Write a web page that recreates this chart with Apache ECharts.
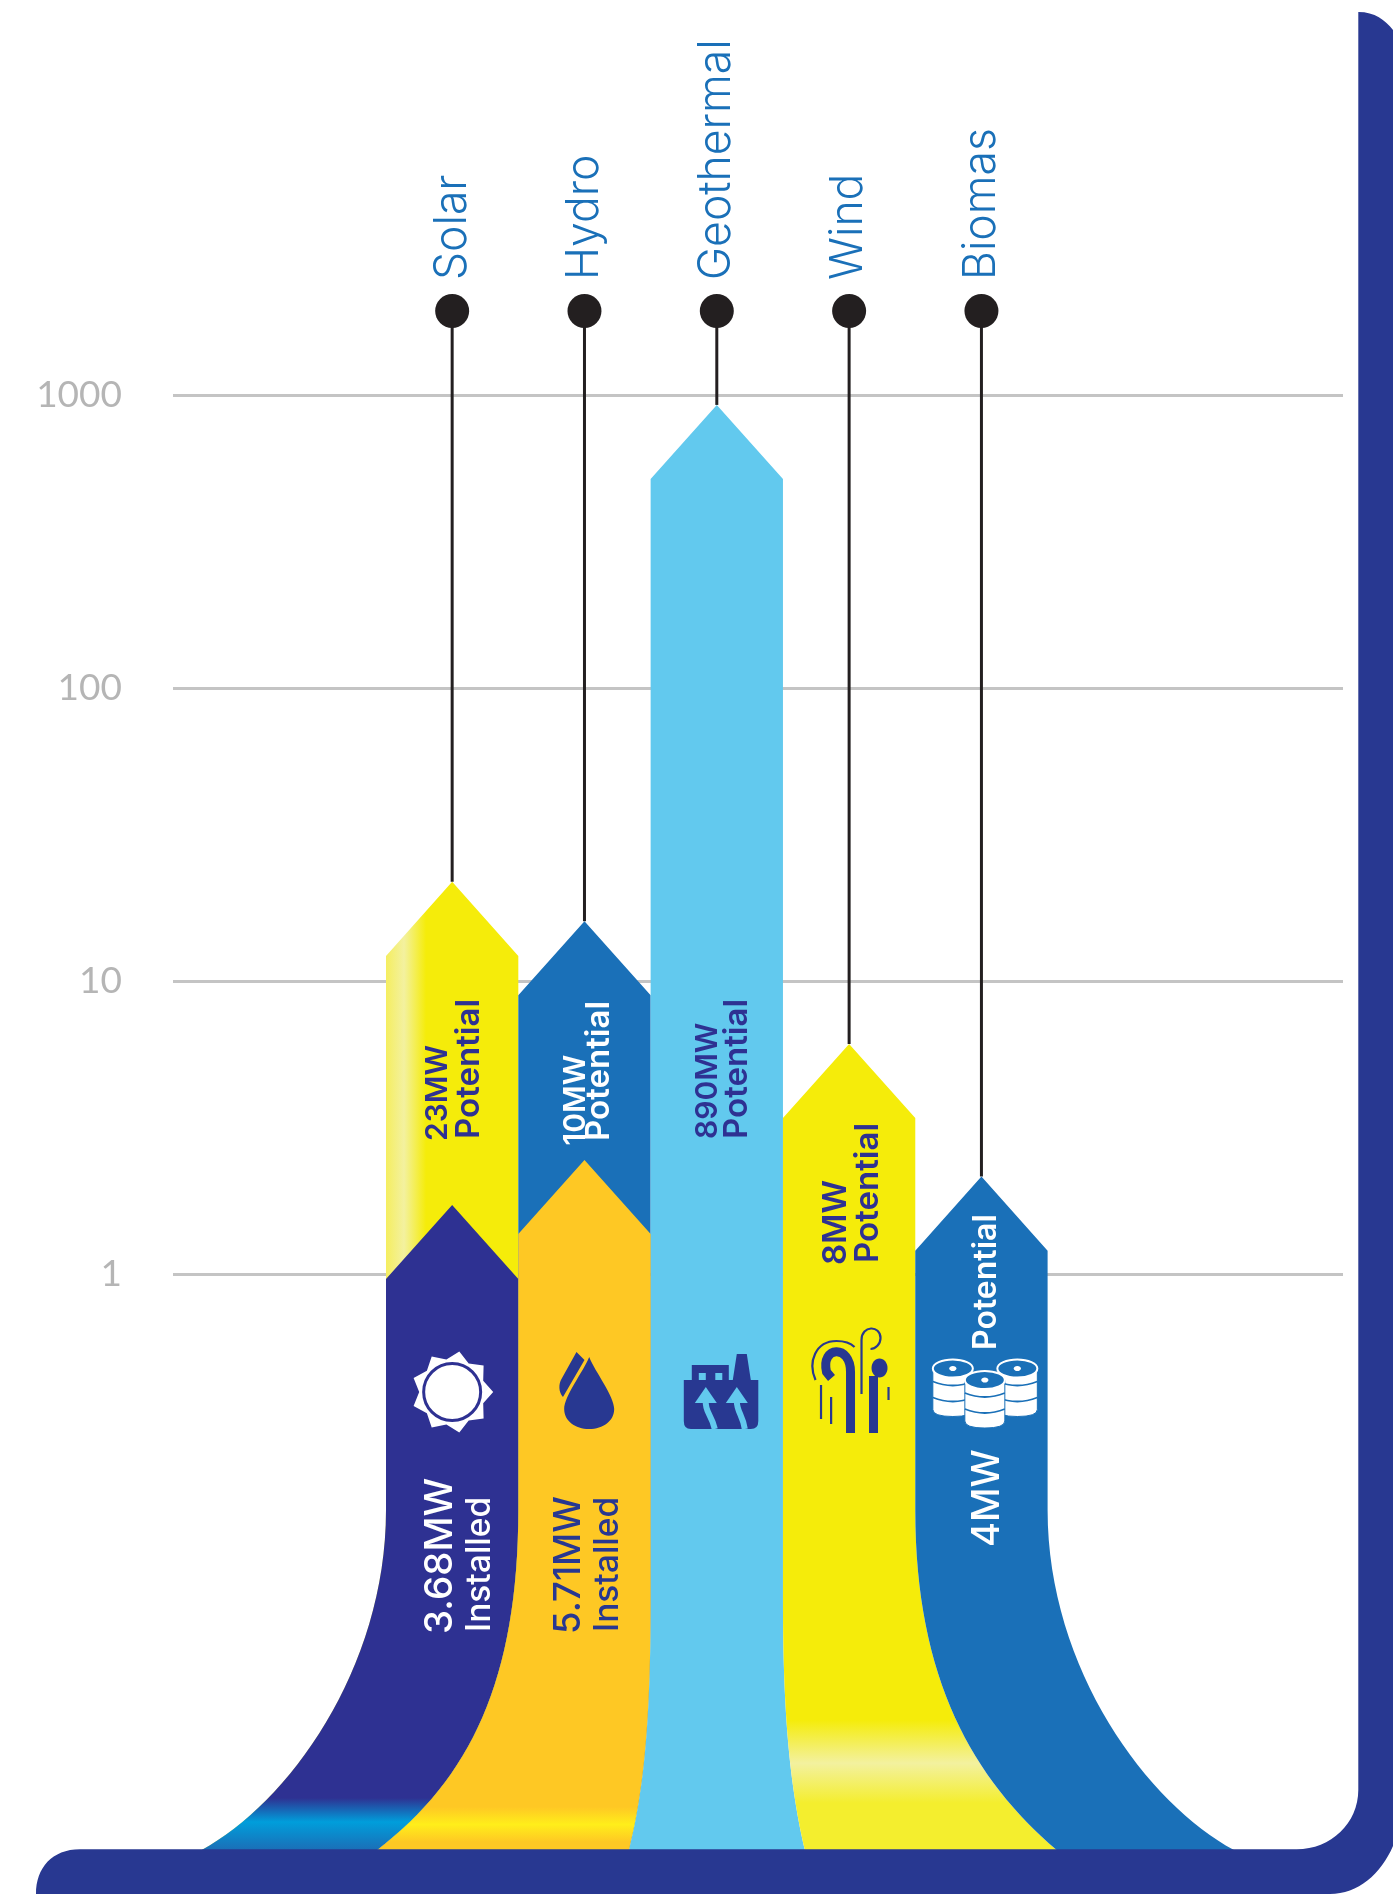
<!DOCTYPE html>
<html><head><meta charset="utf-8">
<style>html,body{margin:0;padding:0;background:#fff}#c{width:1393px;height:1894px}</style>
<script src="https://cdn.jsdelivr.net/npm/echarts@6/dist/echarts.min.js"></script>
</head><body><div id="c"></div>
<script>
// ---- data ----
const categories = ['Solar', 'Hydro', 'Geothermal', 'Wind', 'Biomas'];
const potentialTop = [21.8, 16, 925, 6.1, 2.15];
const installedTop = [1.72, 2.45, null, null, null];
const potentialLabels = ['23MW', '10MW', '890MW', '8MW', null];
const installedLabels = ['3.68MW', '5.71MW', null, null, '4MW'];
const yTicks = [1, 10, 100, 1000];

// ---- style ----
const NAVY = '#283891', INDIGO = '#2E3192', BLUE = '#1A70B8', YEL = '#F5EC0A', AMB = '#FEC824', SKY = '#62C9EE', INK = '#231F20';
const TXT_FONT = 'Inter, "Open Sans", sans-serif';

const vg = (y1, y2, stops) => ({type:'linear', global:true, x:0, y:y1, x2:0, y2:y2, colorStops:stops.map(s=>({offset:s[0],color:s[1]}))});
const hg = (x1, x2, stops) => ({type:'linear', global:true, x:x1, y:0, x2:x2, y2:0, colorStops:stops.map(s=>({offset:s[0],color:s[1]}))});

// flare of each band edge, relative to the edge and to the y=1 line
const FLARE = [
  {s:236, c1:396, c2x:-99,   c2y:530, ex:-184.3},
  {s:236, c1:406, c2x:-48.3, c2y:505, ex:-141},
  {s:326, c1:446, c2x:-6.6,  c2y:516, ex:-21.6},
  {s:326, c1:446, c2x:8,     c2y:516, ex:22},
  {s:236, c1:406, c2x:58.7,  c2y:505, ex:141.4},
  {s:236, c1:396, c2x:100.9, c2y:530, ex:186.4}
];
const F_END = 576, TIP_K = 0.56;

function geom(api, i) {
  const a = api.coord([i, 1]), b = api.coord([i + 1 > 4 ? i - 1 : i + 1, 1]);
  const band = Math.abs(b[0] - a[0]);
  return {cx: a[0], band, base: a[1], left: a[0] - band / 2, right: a[0] + band / 2};
}
function arrowPath(g, i, tipY) {
  const L = FLARE[i], R = FLARE[i + 1], b = g.base;
  const e = b + F_END, sh = tipY + g.band * TIP_K;
  return `M${g.cx} ${tipY} L${g.right} ${sh} L${g.right} ${b + R.s} ` +
    `C${g.right} ${b + R.c1} ${g.right + R.c2x} ${b + R.c2y} ${g.right + R.ex} ${e} ` +
    `L${g.left + L.ex} ${e} ` +
    `C${g.left + L.c2x} ${b + L.c2y} ${g.left} ${b + L.c1} ${g.left} ${b + L.s} ` +
    `L${g.left} ${sh} Z`;
}
function potentialFill(i, g) {
  const b = g.base;
  if (i === 0) return hg(g.left, g.left + 40, [[0,'#F5EE60'],[.45,'#F3F19F'],[1,YEL]]);
  if (i === 1 || i === 4) return BLUE;
  if (i === 2) return SKY;
  return vg(b + 446, b + 529, [[0,YEL],[.52,'#F3F19F'],[1,'#F4EE2E']]);
}
function installedFill(i, g) {
  const b = g.base;
  if (i === 0) return vg(b + 524, b + 575, [[0,INDIGO],[.47,'#009EDB'],[1,BLUE]]);
  return vg(b + 533, b + 568, [[0,AMB],[.5,'#FFEE1A'],[1,AMB]]);
}
const txt = (s, x, y, fill, size, weight) => ({type:'text', x, y, rotation:Math.PI/2, silent:true,
  style:{text:s, fill, fontSize:size, fontWeight:weight||600, fontFamily:TXT_FONT, align:'left', verticalAlign:'middle'}});

// ---- icons, drawn relative to the band centre and y=1 line ----
function sun(c, b) {
  let d = '';
  const R = 41, r = 33, y = b + 118;
  for (let k = 0; k < 18; k++) {
    const ang = k * Math.PI / 9, rad = k % 2 ? r : R;
    d += (k ? 'L' : 'M') + (c + rad * Math.cos(ang)).toFixed(1) + ' ' + (y + rad * Math.sin(ang)).toFixed(1);
  }
  return [
    {type:'path', shape:{pathData:d + 'Z'}, style:{fill:'#fff'}},
    {type:'circle', shape:{cx:c, cy:y, r:28.5}, style:{fill:'#fff', stroke:INDIGO, lineWidth:3}}
  ];
}
function drop(c, b) {
  const x = c + 4.7, y = b;
  return [
    {type:'path', shape:{pathData:`M${x} ${y+83} C${x+6} ${y+98} ${x+25} ${y+122} ${x+25} ${y+135} C${x+25} ${y+147} ${x+14} ${y+155} ${x} ${y+155} C${x-14} ${y+155} ${x-25} ${y+147} ${x-25} ${y+135} C${x-25} ${y+122} ${x-6} ${y+98} ${x} ${y+83} Z`}, style:{fill:NAVY}},
    {type:'path', shape:{pathData:`M${c-8} ${y+78} L${c} ${y+86} L${c-21.5} ${y+123} C${c-26} ${y+118} ${c-26} ${y+110} ${c-23} ${y+105} Z`}, style:{fill:NAVY}}
  ];
}
function factory(c, b) {
  const X = v => c + v - 717, Y = v => b + v - 1274;
  const shaft = (x1,y1,cx1,cy1,cx2,cy2,x2,y2) => ({type:'bezierCurve', shape:{x1:X(x1),y1:Y(y1),x2:X(x2),y2:Y(y2),cpx1:X(cx1),cpy1:Y(cy1),cpx2:X(cx2),cpy2:Y(cy2)}, style:{stroke:SKY, lineWidth:6, fill:'none'}});
  const head = (tx) => ({type:'path', shape:{pathData:`M${X(tx)} ${Y(1387)} L${X(tx+11)} ${Y(1403)} L${X(tx-11)} ${Y(1403)} Z`}, style:{fill:SKY}});
  return [
    {type:'path', shape:{pathData:`M${X(684)} ${Y(1380)} L${X(692)} ${Y(1380)} L${X(692)} ${Y(1365)} L${X(729)} ${Y(1365)} L${X(729)} ${Y(1380)} L${X(733)} ${Y(1380)} L${X(737)} ${Y(1354)} L${X(747)} ${Y(1354)} L${X(751)} ${Y(1380)} L${X(758.5)} ${Y(1380)} L${X(758.5)} ${Y(1421)} Q${X(758.5)} ${Y(1429)} ${X(751)} ${Y(1429)} L${X(691)} ${Y(1429)} Q${X(684)} ${Y(1429)} ${X(684)} ${Y(1421)} Z`}, style:{fill:NAVY}},
    {type:'rect', shape:{x:X(699), y:Y(1373), width:7, height:7}, style:{fill:SKY}},
    {type:'rect', shape:{x:X(715.5), y:Y(1373), width:7, height:7}, style:{fill:SKY}},
    shaft(706,1401, 705,1412, 712,1415, 715,1429), head(706),
    shaft(737,1401, 737,1412, 743,1415, 745,1429), head(737)
  ];
}
function wind(c, b) {
  const X = v => c + v - 849.6, Y = v => b + v - 1274;
  const s = (d, w) => ({type:'path', shape:{pathData:d}, style:{stroke:NAVY, lineWidth:w, fill:'none'}});
  const P = (cmd, ...n) => cmd + n.map((v, k) => k % 2 ? Y(v) : X(v)).join(' ');
  return [
    s(P('M',851,1433)+P('L',851,1372)+P('C',851,1344,821,1346,827,1372)+P('L',832,1378), 9),
    s(P('M',816,1380)+P('C',808,1362,816,1341,837,1341)+P('C',845,1341,851,1343,855,1347), 2.2),
    s(P('M',862,1394)+P('L',862,1340)+P('C',862,1325,881,1325,881,1338)+P('C',881,1344,876,1349,871,1349), 2.2),
    s(P('M',874,1433)+P('L',874,1376), 9),
    {type:'ellipse', shape:{cx:X(880), cy:Y(1368), rx:8, ry:9.5}, style:{fill:NAVY}},
    s(P('M',821.5,1385)+P('L',821.5,1419), 2.2),
    s(P('M',831.6,1397)+P('L',831.6,1424), 2.2),
    s(P('M',889,1387)+P('L',889,1400), 2.2)
  ];
}
function barrel(x, top) {
  const rx = 20, ry = 9, bottom = top + 57;
  const rib = (y) => ({type:'path', shape:{pathData:`M${x-rx} ${y} Q${x} ${y+8} ${x+rx} ${y}`}, style:{stroke:BLUE, lineWidth:1.8, fill:'none'}});
  return [
    {type:'path', shape:{pathData:`M${x-rx} ${top+ry} L${x+rx} ${top+ry} L${x+rx} ${bottom-7} Q${x+rx} ${bottom} ${x} ${bottom} Q${x-rx} ${bottom} ${x-rx} ${bottom-7} Z`}, style:{fill:'#fff', stroke:BLUE, lineWidth:1}},
    {type:'ellipse', shape:{cx:x, cy:top+ry, rx:rx, ry:ry}, style:{fill:BLUE, stroke:'#fff', lineWidth:2}},
    {type:'ellipse', shape:{cx:x, cy:top+ry, rx:3.6, ry:2.6}, style:{fill:'#fff'}},
    rib(top+22), rib(top+38)
  ];
}
function barrels(c, b) {
  const X = v => c + v - 981.6, y = v => b + v - 1274;
  return [...barrel(X(953), y(1359.5)), ...barrel(X(1017.5), y(1359.5)), ...barrel(X(985), y(1371))];
}
const iconDraw = [sun, drop, factory, wind, barrels];

// label placement: [dx from band centre, dy from y=1 line, size] – one per text
const POT_POS = [
  {v:[-14.5,-133,30], t:[16.5,-135,33], c:INDIGO},
  {v:[-8,-128.5,30], t:[15,-133,33], c:'#fff'},
  {v:[-9,-135,30], t:[20.5,-135,33], c:INDIGO},
  {v:[-13,-9,33], t:[18.5,-11,33], c:INDIGO},
  {t:[5,76,32], c:'#fff'}
];
const INST_POS = [
  {v:[-12,360,38.5,500], t:[28,358,33.5,500], c:'#fff'},
  {v:[-15.5,360,36.5,500], t:[23,358,33.5,500], c:NAVY},
  null, null,
  {v:[6,273,38,500], c:'#fff'}
];

const dataPot = categories.map((c, i) => [i, potentialTop[i]]);
const dataInst = categories.map((c, i) => [i, installedTop[i]]).filter(d => d[1] != null);

const option = {
  animation:false,
  backgroundColor:'#fff',
  grid:[
    {left:173, right:50, top:395, bottom:620, containLabel:false},
    {left:386, width:661.6, top:395, bottom:620, containLabel:false}
  ],
  xAxis:[
    {type:'category', gridIndex:0, data:[''], show:false},
    {type:'category', gridIndex:1, position:'top', data:categories,
     axisLine:{show:false}, axisTick:{show:false}, splitLine:{show:false},
     axisLabel:{interval:0, rotate:-90, margin:115, color:BLUE, fontFamily:TXT_FONT, fontWeight:300, fontSize:44.5}}
  ],
  yAxis:[
    {type:'log', gridIndex:0, min:yTicks[0], max:yTicks[yTicks.length-1], logBase:10,
     axisLine:{show:false}, axisTick:{show:false}, minorTick:{show:false},
     splitLine:{show:true, lineStyle:{color:'#c4c4c4', width:3}},
     axisLabel:{margin:51, color:'#b5b5b5', fontFamily:'Lato, sans-serif', fontSize:37, padding:[0,0,14,0], align:'right', formatter:v=>String(v)}},
    {type:'log', gridIndex:1, min:yTicks[0], max:yTicks[yTicks.length-1], logBase:10, show:false, splitLine:{show:false}}
  ],
  series:[
    {type:'custom', name:'Potential', xAxisIndex:1, yAxisIndex:1, data:dataPot, z:3, encode:{x:0,y:1},
     renderItem(p, api){
       const i = api.value(0), g = geom(api, i), tipY = api.coord([i, api.value(1)])[1], dotY = api.coord([i, yTicks[3]])[1] - 84;
       return {type:'group', children:[
         {type:'line', shape:{x1:g.cx, y1:dotY, x2:g.cx, y2:tipY}, style:{stroke:INK, lineWidth:3}},
         {type:'circle', shape:{cx:g.cx, cy:dotY, r:17}, style:{fill:INK}},
         {type:'path', shape:{pathData:arrowPath(g, i, tipY)}, style:{fill:potentialFill(i, g)}}
       ]};
     }},
    {type:'custom', name:'Installed', xAxisIndex:1, yAxisIndex:1, data:dataInst, z:4, encode:{x:0,y:1},
     renderItem(p, api){
       const i = api.value(0), g = geom(api, i), tipY = api.coord([i, api.value(1)])[1];
       return {type:'path', shape:{pathData:arrowPath(g, i, tipY)}, style:{fill:installedFill(i, g)}};
     }},
    {type:'custom', name:'Labels', xAxisIndex:1, yAxisIndex:1, data:categories.map((c,i)=>[i,1]), z:5, encode:{x:0,y:1},
     renderItem(p, api){
       const i = api.value(0), g = geom(api, i), kids = iconDraw[i](g.cx, g.base);
       const pp = POT_POS[i], ip = INST_POS[i];
       if (pp.v && potentialLabels[i]) kids.push(txt(potentialLabels[i], g.cx+pp.v[0], g.base+pp.v[1], pp.c, pp.v[2]));
       if (pp.t) kids.push(txt('Potential', g.cx+pp.t[0], g.base+pp.t[1], pp.c, pp.t[2]));
       if (ip) {
         if (ip.v) kids.push(txt(installedLabels[i], g.cx+ip.v[0], g.base+ip.v[1], ip.c, ip.v[2], ip.v[3]));
         if (ip.t) kids.push(txt('Installed', g.cx+ip.t[0], g.base+ip.t[1], ip.c, ip.t[2], ip.t[3]));
       }
       return {type:'group', children:kids};
     }},
    {type:'custom', name:'Frame', xAxisIndex:1, yAxisIndex:1, data:[[0,1]], z:10, silent:true, encode:{x:0,y:1},
     renderItem(){
       return {type:'path', shape:{pathData:'M36 1894 C36 1868 52 1849.3 80 1849.3 L1296.7 1849.3 C1331 1849.3 1358.3 1823 1358.3 1790 L1358.3 12 C1375 12 1385 20 1393 30 L1393 1846 C1381 1874 1358 1894 1330 1894 Z'}, style:{fill:NAVY}};
     }}
  ]
};
echarts.init(document.getElementById('c'), null, {renderer:'canvas'}).setOption(option);
</script></body></html>
